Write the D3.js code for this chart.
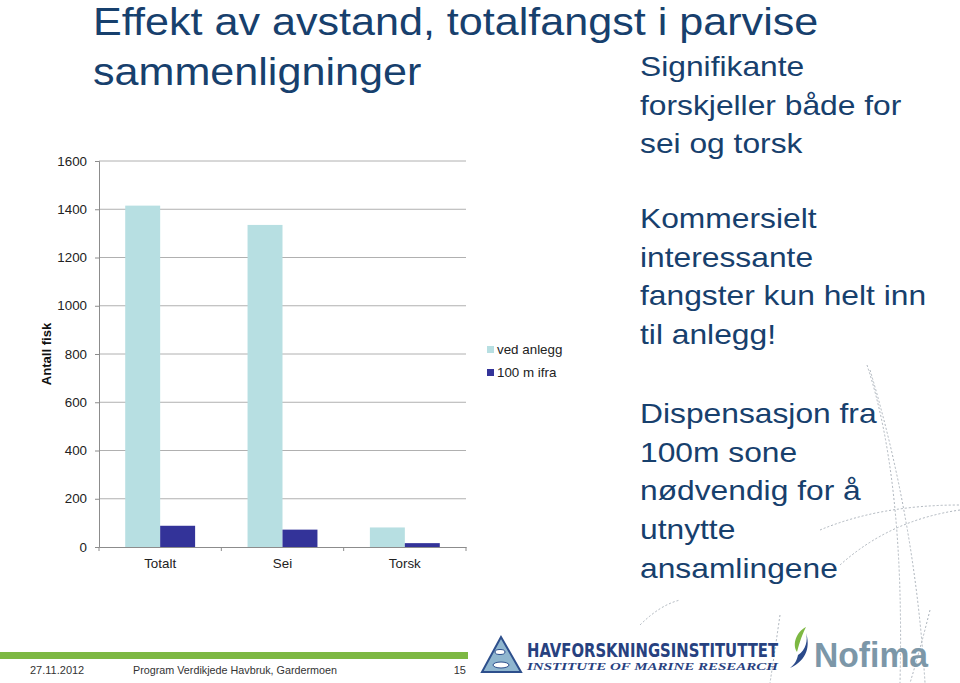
<!DOCTYPE html>
<html><head><meta charset="utf-8">
<script src="https://cdn.jsdelivr.net/npm/d3@7"></script>
<style>body{margin:0;background:#fff;} svg{display:block;font-family:"Liberation Sans",Arial,sans-serif;}</style>
</head><body>
<svg id="c" width="960" height="683"></svg>
<script>
const categories = ["Totalt", "Sei", "Torsk"];
const seriesNames = ["ved anlegg", "100 m ifra"];
const vedAnlegg = [1415, 1335, 81];
const hundreM = [88, 72, 16];
const yTicks = [0, 200, 400, 600, 800, 1000, 1200, 1400, 1600];
const titleLines = ["Effekt av avstand, totalfangst i parvise", "sammenligninger"];
const rightBlocks = [
  ["Signifikante", "forskjeller både for", "sei og torsk"],
  ["Kommersielt", "interessante", "fangster kun helt inn", "til anlegg!"],
  ["Dispensasjon fra", "100m sone", "nødvendig for å", "utnytte", "ansamlingene"]
];
const footer = ["27.11.2012", "Program Verdikjede Havbruk, Gardermoen", "15"];

const colors = ["#B7DFE2", "#333399"];
const navy = "#17406D";
const SX = 1.135;   // horizontal stretch of slide text
const CSX = 1.07;   // horizontal stretch of chart text
const svg = d3.select("#c");

// background decorative dashed arcs
const deco = svg.append("g").attr("fill","none").attr("stroke","#9aa3ad").attr("stroke-width",1).attr("stroke-dasharray","2,2").attr("opacity",0.8);
deco.append("path").attr("d","M867,365 Q905,480 900,683");
deco.append("path").attr("d","M870,370 Q915,520 925,683");
deco.append("path").attr("d","M820,530 Q880,505 960,505");
deco.append("path").attr("d","M840,565 Q890,520 960,510");
deco.append("path").attr("d","M640,625 Q660,605 680,600");
deco.append("path").attr("d","M930,610 Q920,650 910,683");
deco.append("path").attr("d","M780,615 Q775,650 770,683");

// title
svg.append("g").selectAll("text").data(titleLines).join("text")
  .attr("transform",(d,i)=>`translate(93,${34.5+i*50}) scale(${SX},1)`)
  .attr("font-size",38).attr("fill",navy).text(d=>d);

// right text blocks
const blockStart = [76, 228, 423];
rightBlocks.forEach((lines,b)=>{
  svg.append("g").selectAll("text").data(lines).join("text")
    .attr("transform",(d,i)=>`translate(640,${blockStart[b]+i*38.7}) scale(${SX},1)`)
    .attr("font-size",28).attr("fill",navy).text(d=>d);
});

// chart
const x0 = d3.scaleBand().domain(categories).range([99,466]).padding(0);
const x1 = d3.scaleBand().domain(seriesNames).range([0,x0.bandwidth()]).paddingInner(0).paddingOuter(0.75);
const y = d3.scaleLinear().domain([0,1600]).range([547,161]);

const g = svg.append("g");
g.append("g").selectAll("line").data(yTicks.filter(d=>d>0)).join("line")
  .attr("x1",99).attr("x2",466).attr("y1",d=>y(d)).attr("y2",d=>y(d))
  .attr("stroke","#B0B0B0").attr("stroke-width",1);

const yAxis = g.append("g").attr("transform","translate(99,0)")
  .call(d3.axisLeft(y).tickValues(yTicks).tickSize(4).tickPadding(8).tickFormat(d3.format("d")));
yAxis.select(".domain").attr("stroke","#8c8c8c");
yAxis.selectAll(".tick line").attr("stroke","#8c8c8c");
yAxis.selectAll("text").attr("font-size",12.5).attr("fill","#222").attr("font-family","Liberation Sans, Arial, sans-serif")
  .attr("x",-12/CSX).attr("transform",`scale(${CSX},1)`);

const data = categories.map((c,i)=>({c, vals:[vedAnlegg[i], hundreM[i]]}));
g.append("g").selectAll("g").data(data).join("g")
  .attr("transform",d=>`translate(${x0(d.c)},0)`)
  .selectAll("rect").data(d=>d.vals.map((v,j)=>({s:seriesNames[j],v,j}))).join("rect")
  .attr("x",d=>x1(d.s)).attr("width",x1.bandwidth())
  .attr("y",d=>y(d.v)).attr("height",d=>y(0)-y(d.v)).attr("fill",d=>colors[d.j]);

const xAxis = g.append("g").attr("transform","translate(0,547)")
  .call(d3.axisBottom(x0).tickSize(0).tickPadding(12));
xAxis.select(".domain").attr("stroke","#8c8c8c");
xAxis.selectAll("text").attr("font-size",12.5).attr("fill","#222").attr("font-family","Liberation Sans, Arial, sans-serif")
  .attr("transform",`scale(${CSX},1)`);
// boundary ticks
g.append("g").selectAll("line").data([...categories.map(c=>x0(c)), 466]).join("line")
  .attr("x1",d=>d).attr("x2",d=>d).attr("y1",547).attr("y2",551).attr("stroke","#8c8c8c");

svg.append("text").attr("transform","translate(51,354) rotate(-90) scale(1.05,1)")
  .attr("text-anchor","middle").attr("font-size",12.5).attr("font-weight","bold").attr("fill","#111").text("Antall fisk");

// legend
const leg = svg.append("g").selectAll("g").data(seriesNames).join("g")
  .attr("transform",(d,i)=>`translate(487,${346+i*23})`);
leg.append("rect").attr("width",7).attr("height",7).attr("fill",(d,i)=>colors[i]);
leg.append("text").attr("transform",`translate(10,8) scale(${CSX},1)`).attr("font-size",12.5).attr("fill","#222").text(d=>d);

// footer
svg.append("rect").attr("x",0).attr("y",652).attr("width",468).attr("height",7).attr("fill","#7DB843");
const ft = svg.append("g").attr("font-size",11).attr("fill","#333");
ft.append("text").attr("x",30).attr("y",674).text(footer[0]);
ft.append("text").attr("x",133).attr("y",674).attr("textLength",204).attr("lengthAdjust","spacingAndGlyphs").text(footer[1]);
ft.append("text").attr("x",466).attr("y",674).attr("text-anchor","end").text(footer[2]);

// logos (approximations)
const lg = svg.append("g");
lg.append("path").attr("d","M501,637 L482,672 L521,672 Z").attr("fill","#8fb6cf").attr("stroke","#2d4f8c").attr("stroke-width",2);
lg.append("ellipse").attr("cx",501).attr("cy",665).attr("rx",8).attr("ry",3).attr("fill","#fff").attr("stroke","#2d4f8c");
lg.append("ellipse").attr("cx",500).attr("cy",652).attr("rx",5).attr("ry",2.5).attr("fill","#fff").attr("stroke","#2d4f8c");
lg.append("text").attr("x",527).attr("y",657).attr("font-size",19).attr("font-weight","bold")
  .attr("fill","#27417F").attr("textLength",251).attr("lengthAdjust","spacingAndGlyphs")
  .attr("font-family","DejaVu Sans Condensed, Liberation Sans Narrow, sans-serif").text("HAVFORSKNINGSINSTITUTTET");
lg.append("text").attr("x",527).attr("y",670).attr("font-size",11).attr("font-weight","bold").attr("font-style","italic")
  .attr("fill","#27417F").attr("textLength",251).attr("lengthAdjust","spacingAndGlyphs")
  .attr("font-family","Liberation Serif, serif").text("INSTITUTE OF MARINE RESEARCH");
lg.append("path").attr("d","M806,627 C796,632 792,645 797,652 C800,640 803,633 806,627 Z").attr("fill","#7DB843");
lg.append("path").attr("d","M798,655 C806,650 808,640 806,633 C810,645 808,660 790,668 C795,664 797,660 798,655 Z").attr("fill","#2B4A8A");
lg.append("text").attr("x",814).attr("y",667).attr("font-size",35).attr("font-weight","bold")
  .attr("fill","#7C97A8").attr("textLength",114).attr("lengthAdjust","spacingAndGlyphs").text("Nofima");
</script>
</body></html>
